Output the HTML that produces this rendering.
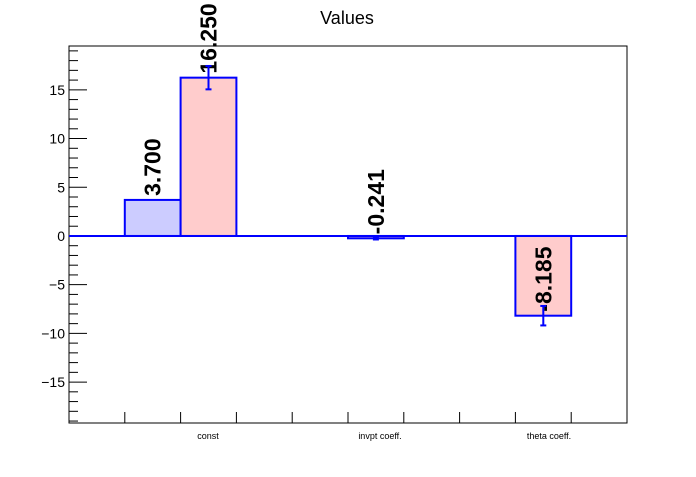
<!DOCTYPE html>
<html><head><meta charset="utf-8"><style>
body{margin:0;background:#fff;font-family:"Liberation Sans",sans-serif}
</style></head><body>
<svg width="696" height="472" xmlns="http://www.w3.org/2000/svg" style="font-family:'Liberation Sans',sans-serif">
<rect width="696" height="472" fill="#fff"/>
<text x="347" y="24" font-size="18" text-anchor="middle">Values</text>
<g id="plot"></g>
</svg>
<script>
const categories=["const","invpt coeff.","theta coeff."];
const seriesA=[3.7,0,0];
const seriesB=[16.25,-0.241,-8.185];
const errorsB=[1.2,0.12,1.0];
const yTicks=[-15,-10,-5,0,5,10,15];
const slotA=[1,4,7];
const slotB=[2,5,8];
const labelX=[208,380,549];
const L=69,R=627,T=46,B=423,ymin=-19.2,ymax=19.5;
const y=v=>T+(ymax-v)/(ymax-ymin)*(B-T);
const sw=(R-L)/10;
const x=s=>L+sw*s;
const ns="http://www.w3.org/2000/svg";
const g=document.getElementById('plot');
function mk(t,a){const e=document.createElementNS(ns,t);for(const k in a)e.setAttribute(k,a[k]);g.appendChild(e);return e;}
let f=mk('rect',{x:L,y:T,width:R-L,height:B-T,fill:'none',stroke:'#000','stroke-width':1});


for(let v=-19;v<=19;v++){const big=v%5===0;const t=mk('line',{x1:L,x2:L+(big?18:9),y1:y(v),y2:y(v),stroke:'#000'});

}
yTicks.forEach(v=>{const t=mk('text',{x:L-4,y:y(v)+5,'font-size':14,'text-anchor':'end'});t.textContent=v<0?'\u2212'+(-v):v;

});
for(let k=1;k<10;k++){const xx=x(k);const t=mk('line',{x1:xx,x2:xx,y1:B,y2:B-11,stroke:'#000'});

}
categories.forEach((c,i)=>{const t=mk('text',{x:labelX[i],y:B+16,'font-size':9,'text-anchor':'middle'});t.textContent=c;

});
function bar(s,v,fill,name){const y0=y(0),yv=y(v);const r=mk('rect',{x:x(s),y:Math.min(y0,yv),width:sw,height:Math.max(Math.abs(y0-yv),0.5),fill:fill,stroke:'#00f','stroke-width':2});

}
function label(s,v,name){const cx=x(s)+sw/2+8;const yy=y(v)-4;const t=mk('text',{x:cx,y:yy,'font-size':23,'font-weight':'bold','text-anchor':'start',transform:`rotate(-90 ${cx} ${yy})`});t.textContent=v.toFixed(3);

}
seriesA.forEach((v,i)=>{if(v!==0){bar(slotA[i],v,'#ccccff','bar-a-'+i);}});
seriesB.forEach((v,i)=>{bar(slotB[i],v,'#ffcccc','bar-b-'+i);});
let z=mk('line',{x1:L,x2:R,y1:y(0),y2:y(0),stroke:'#00f','stroke-width':2});


seriesA.forEach((v,i)=>{if(v!==0)label(slotA[i],v,'value-label-a-'+i);});
seriesB.forEach((v,i)=>{label(slotB[i],v,'value-label-b-'+i);
const cx=x(slotB[i])+sw/2;const e=errorsB[i];
const l=mk('line',{x1:cx,x2:cx,y1:y(v+e),y2:y(v-e),stroke:'#00f','stroke-width':2});


[v+e,v-e].forEach(w=>{const c=mk('line',{x1:cx-3,x2:cx+3,y1:y(w),y2:y(w),stroke:'#00f','stroke-width':2});

});});
</script>
</body></html>
